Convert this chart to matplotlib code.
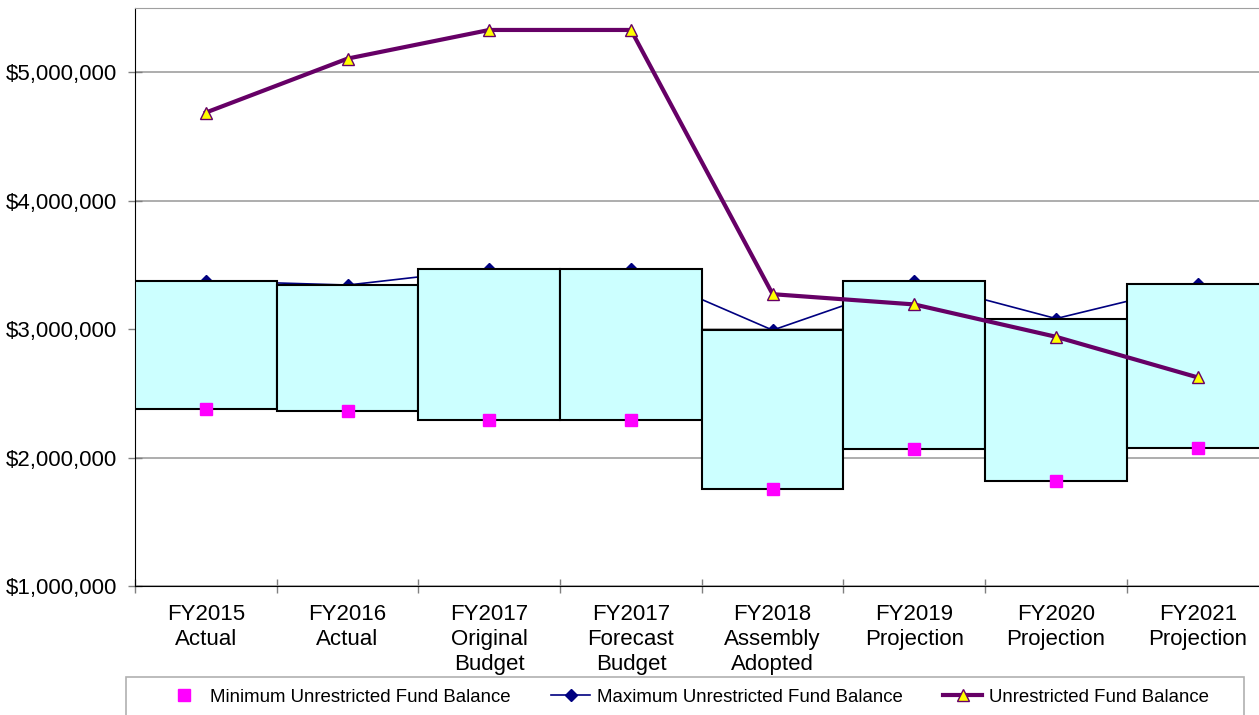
import numpy as np
import matplotlib
matplotlib.use("Agg")
import matplotlib.pyplot as plt
from matplotlib.lines import Line2D
from matplotlib.patches import Rectangle
from matplotlib.ticker import FuncFormatter

plt.rcParams["font.family"] = ["Liberation Sans", "DejaVu Sans"]

## categories (two/three line labels as in the original)
categories = ["FY2015\nActual", "FY2016\nActual", "FY2017\nOriginal\nBudget",
              "FY2017\nForecast\nBudget", "FY2018\nAssembly\nAdopted",
              "FY2019\nProjection", "FY2020\nProjection", "FY2021\nProjection"]

## values, in dollars
min_balance = [2375000, 2364000, 2294000, 2294000, 1757000, 2066000, 1815000, 2076000]
max_balance = [3376000, 3343000, 3469000, 3469000, 2992000, 3374000, 3082000, 3350000]
unrestricted = [4686000, 5106000, 5329000, 5329000, 3272000, 3192000, 2940000, 2624000]

labels = ["Minimum Unrestricted Fund Balance",
          "Maximum Unrestricted Fund Balance",
          "Unrestricted Fund Balance"]

W, H = 1259, 715
fig = plt.figure(figsize=(W / 100, H / 100), dpi=100)
ax = fig.add_axes([135 / W, 1 - 586 / H, (1268.6 - 135) / W, (586 - 8) / H])

x = np.arange(len(categories))
lo = np.array(min_balance)
hi = np.array(max_balance)

## max line sits under the boxes
ax.plot(x, max_balance, color="#000080", lw=1.2, marker="D", ms=6.5, zorder=2)
ax.bar(x, hi - lo, bottom=lo, width=1.0, color="#CCFFFF", edgecolor="black",
       linewidth=1.5, zorder=3)
ax.plot(x, min_balance, ls="none", marker="s", ms=8.5, color="#FF00FF", zorder=4)
ax.plot(x, unrestricted, color="#660066", lw=3, marker="^", ms=8.5,
        markerfacecolor="#FFFF00", markeredgecolor="#660066", markeredgewidth=1,
        zorder=5)

ax.set_xlim(-0.5, 7.5)
ax.set_ylim(1000000, 5500000)
ax.set_yticks([1000000, 2000000, 3000000, 4000000, 5000000])
ax.yaxis.set_major_formatter(FuncFormatter(lambda v, p: "${:,.0f}".format(v)))
ax.set_xticks(x)
ax.set_xticklabels(categories, fontsize=16, linespacing=1.25)
ax.set_xticks(np.arange(-0.5, 8, 1.0), minor=True)
ax.tick_params(axis="x", which="major", length=0, pad=13)
ax.tick_params(axis="x", which="minor", direction="inout", length=10,
               color="#808080", width=1)
ax.tick_params(axis="y", direction="inout", length=10, color="#808080",
               width=1, pad=8, labelsize=16)

ax.yaxis.grid(True, color="#a0a0a0", lw=1.2)
ax.set_axisbelow(True)
ax.spines["top"].set_color("#a0a0a0")
ax.spines["right"].set_visible(False)
ax.spines["left"].set_color("black")
ax.spines["bottom"].set_color("black")

handles = [
    Line2D([], [], ls="none", marker="s", ms=8.5, color="#FF00FF"),
    Line2D([], [], color="#000080", lw=1.2, marker="D", ms=6.5),
    Line2D([], [], color="#660066", lw=3, marker="^", ms=8.5,
           markerfacecolor="#FFFF00", markeredgecolor="#660066"),
]
fig.legend(handles, labels, loc="center", ncol=3, frameon=False, fontsize=13.4,
           bbox_to_anchor=(686.5 / W, 1 - 697 / H), borderaxespad=0,
           borderpad=0, handlelength=2.1, handletextpad=0.35,
           columnspacing=2.19)
fig.add_artist(Rectangle((126 / W, -0.01), (1244 - 126) / W, 0.01 + 1 - 677 / H,
                         transform=fig.transFigure, fill=False,
                         edgecolor="#b0b0b0", lw=1.2))

fig.savefig("out.png", dpi=100)
plt.close("all")
